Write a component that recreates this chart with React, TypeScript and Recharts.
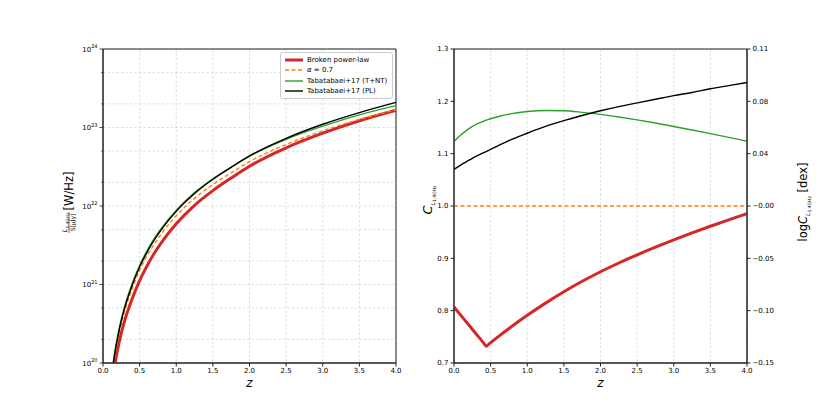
import React from 'react'
import {
  LineChart, Line, XAxis, YAxis, CartesianGrid, Legend, ReferenceArea
} from 'recharts'

const FONT = '"DejaVu Sans", sans-serif'
const RED = '#d62728'
const ORANGE = '#ff7f0e'
const GREEN = '#2ca02c'
const BLACK = '#000000'

// left panel: L_1.4GHz per unit flux (1 μJy), W/Hz
const Z_LUM = [0.1, 0.15, 0.2, 0.25, 0.3, 0.4, 0.5, 0.6, 0.7, 0.8, 1.0, 1.25, 1.5, 1.75, 2.0, 2.5, 3.0, 3.5, 4.0]
const LUM_BROKEN = [3.45e19, 8.12e19, 1.49e20, 2.42e20, 3.57e20, 6.63e20, 1.12e21, 1.72e21, 2.50e21, 3.44e21, 5.93e21, 1.02e22, 1.57e22, 2.27e22, 3.21e22, 5.51e22, 8.46e22, 1.22e23, 1.66e23]
const LUM_ALPHA = [4.37e19, 1.04e20, 1.93e20, 3.16e20, 4.72e20, 8.97e20, 1.51e21, 2.30e21, 3.29e21, 4.47e21, 7.50e21, 1.25e22, 1.88e22, 2.65e22, 3.67e22, 6.08e22, 9.05e22, 1.27e23, 1.69e23]
const LUM_TNT = [4.97e19, 1.19e20, 2.22e20, 3.64e20, 5.46e20, 1.04e21, 1.76e21, 2.69e21, 3.86e21, 5.26e21, 8.85e21, 1.48e22, 2.22e22, 3.12e22, 4.31e22, 7.08e22, 1.04e23, 1.45e23, 1.90e23]
const LUM_PL = [4.72e19, 1.13e20, 2.10e20, 3.45e20, 5.17e20, 9.88e20, 1.67e21, 2.56e21, 3.69e21, 5.04e21, 8.54e21, 1.44e22, 2.19e22, 3.11e22, 4.34e22, 7.28e22, 1.10e23, 1.55e23, 2.09e23]

// right panel: correction factor C
const Z_CORR = [0, 0.1, 0.2, 0.3, 0.4, 0.44, 0.48, 0.6, 0.75, 1.0, 1.25, 1.5, 1.75, 2.0, 2.25, 2.5, 2.75, 3.0, 3.25, 3.5, 3.75, 4.0]
const C_BROKEN = [0.807, 0.790, 0.773, 0.756, 0.739, 0.732, 0.7366, 0.7499, 0.7659, 0.7911, 0.8144, 0.8361, 0.8561, 0.8744, 0.8911, 0.9066, 0.9213, 0.9353, 0.9486, 0.9613, 0.9736, 0.9853]
const C_ALPHA = [1, 1, 1, 1, 1, 1, 1, 1, 1, 1, 1, 1, 1, 1, 1, 1, 1, 1, 1, 1, 1, 1]
const C_TNT = [1.123, 1.1365, 1.1475, 1.156, 1.1618, 1.164, 1.1658, 1.1705, 1.1755, 1.1805, 1.1825, 1.182, 1.179, 1.175, 1.170, 1.1645, 1.1585, 1.152, 1.1452, 1.1383, 1.1312, 1.124]
const C_PL = [1.070, 1.079, 1.087, 1.095, 1.1015, 1.104, 1.1067, 1.115, 1.125, 1.139, 1.152, 1.163, 1.173, 1.182, 1.190, 1.197, 1.204, 1.211, 1.217, 1.224, 1.230, 1.236]

// ticks
const Z_TICKS = [0, 0.5, 1, 1.5, 2, 2.5, 3, 3.5, 4]
const LOG_DECADES = [20, 21, 22, 23]
const LOG_MANTISSAS = [1, 2, 3, 4, 5, 6, 7, 8, 9]
const LOG_TICKS = [...LOG_DECADES.flatMap(d => LOG_MANTISSAS.map(m => m * Math.pow(10, d))), 1e24]
const C_TICKS = [0.7, 0.8, 0.9, 1.0, 1.1, 1.2, 1.3]
const LOGC_LABELS = ['\u22120.15', '\u22120.10', '\u22120.05', '\u22120.00', '0.04', '0.08', '0.11']

const SERIES = [
  { key: 'broken', label: 'Broken power-law', color: RED, width: 3, dash: undefined },
  { key: 'alpha', label: 'α = 0.7', color: ORANGE, width: 1.4, dash: '4 2.5' },
  { key: 'tnt', label: 'Tabatabaei+17 (T+NT)', color: GREEN, width: 1.4, dash: undefined },
  { key: 'pl', label: 'Tabatabaei+17 (PL)', color: BLACK, width: 1.4, dash: undefined },
]

const lumData = Z_LUM.map((z, i) => ({
  z, broken: LUM_BROKEN[i], alpha: LUM_ALPHA[i], tnt: LUM_TNT[i], pl: LUM_PL[i],
}))

const corrData = Z_CORR.map((z, i) => ({
  z, broken: C_BROKEN[i], alpha: C_ALPHA[i], tnt: C_TNT[i], pl: C_PL[i],
}))

const tickStyle = { fill: '#000', fontSize: 7, fontFamily: FONT }

function LogTick(props: any) {
  const { x, y, payload } = props
  const v = payload.value as number
  const exp = Math.round(Math.log10(v))
  const major = Math.abs(v / Math.pow(10, exp) - 1) < 1e-6
  const len = major ? 3.5 : 2
  return (
    <g>
      <line x1={x - len} x2={x} y1={y} y2={y} stroke="#222" strokeWidth={major ? 0.8 : 0.6} />
      {major && (
        <text x={x - len - 2} y={y} dy={2.5} textAnchor="end" fontSize={7} fontFamily={FONT} fill="#000">
          10<tspan fontSize={5} dy={-3.5}>{exp}</tspan>
        </text>
      )}
    </g>
  )
}

function LegendBox() {
  return (
    <div style={{
      border: '1px solid #cccccc',
      borderRadius: 3,
      background: 'rgba(255,255,255,0.85)',
      padding: '2px 5px 2px 4px',
      fontFamily: FONT,
      fontSize: 7,
      color: '#000',
    }}>
      {SERIES.map(s => (
        <div key={s.key} style={{ display: 'flex', alignItems: 'center', height: 10.3 }}>
          <svg width={18} height={6} style={{ marginRight: 4 }}>
            <line x1={0} x2={18} y1={3} y2={3} stroke={s.color} strokeWidth={s.width} strokeDasharray={s.dash} />
          </svg>
          {s.key === 'alpha'
            ? <span><i>α</i> = 0.7</span>
            : <span>{s.label}</span>}
        </div>
      ))}
    </div>
  )
}

function LuminosityPanel() {
  return (
    <LineChart width={420} height={415} data={lumData} margin={{ top: 49, right: 24, bottom: 22, left: 53 }}>
      <CartesianGrid stroke="#c8c8c8" strokeDasharray="2.5 2" strokeWidth={0.6} />
      <XAxis
        type="number" dataKey="z" domain={[0, 4]} ticks={Z_TICKS}
        tickFormatter={(v: number) => v.toFixed(1)}
        tick={tickStyle} tickSize={3.5} tickMargin={2} height={30}
        axisLine={{ stroke: '#222' }} tickLine={{ stroke: '#222' }}
      />
      <YAxis
        scale="log" domain={[1e20, 1e24]} ticks={LOG_TICKS} allowDataOverflow
        width={50} tickSize={0} tickMargin={0} tickLine={false}
        tick={<LogTick />} axisLine={{ stroke: '#222' }}
      />
      <Legend
        layout="vertical" align="center" verticalAlign="middle"
        wrapperStyle={{ left: 280, top: 52, width: 'auto' }}
        content={() => <LegendBox />}
      />
      {SERIES.map(s => (
        <Line
          key={s.key} type="monotone" dataKey={s.key}
          stroke={s.color} strokeWidth={s.key === 'broken' ? 3 : 1.4}
          strokeDasharray={s.dash} dot={false} activeDot={false}
          isAnimationActive={false}
        />
      ))}
      <ReferenceArea x1={0} x2={4} y1={1e20} y2={1e24} fill="none" stroke="#222" strokeWidth={1} />
    </LineChart>
  )
}

function CorrectionPanel() {
  return (
    <LineChart width={410} height={415} data={corrData} margin={{ top: 49, right: 43, bottom: 22, left: 4 }}>
      <CartesianGrid stroke="#c8c8c8" strokeDasharray="2.5 2" strokeWidth={0.6} />
      <XAxis
        type="number" dataKey="z" domain={[0, 4]} ticks={Z_TICKS}
        tickFormatter={(v: number) => v.toFixed(1)}
        tick={tickStyle} tickSize={3.5} tickMargin={2} height={30}
        axisLine={{ stroke: '#222' }} tickLine={{ stroke: '#222' }}
      />
      <YAxis
        yAxisId="c" domain={[0.7, 1.3]} ticks={C_TICKS} allowDataOverflow
        tickFormatter={(v: number) => v.toFixed(1)}
        width={30} tick={tickStyle} tickSize={3.5} tickMargin={2}
        axisLine={{ stroke: '#222' }} tickLine={{ stroke: '#222' }}
      />
      <YAxis
        yAxisId="logc" orientation="right" domain={[0.7, 1.3]} ticks={C_TICKS} allowDataOverflow
        tickFormatter={(_v: number, i: number) => LOGC_LABELS[i]}
        width={40} tick={tickStyle} tickSize={3.5} tickMargin={2}
        axisLine={{ stroke: '#222' }} tickLine={{ stroke: '#222' }}
      />
      <Line yAxisId="c" type="monotone" dataKey="broken" stroke={RED} strokeWidth={3} dot={false} activeDot={false} isAnimationActive={false} />
      <Line yAxisId="logc" type="linear" dataKey="alpha" stroke={ORANGE} strokeWidth={1.4} strokeDasharray="4 2.5" dot={false} activeDot={false} isAnimationActive={false} />
      <Line yAxisId="c" type="monotone" dataKey="tnt" stroke={GREEN} strokeWidth={1.4} dot={false} activeDot={false} isAnimationActive={false} />
      <Line yAxisId="c" type="monotone" dataKey="pl" stroke={BLACK} strokeWidth={1.4} dot={false} activeDot={false} isAnimationActive={false} />
      <ReferenceArea yAxisId="c" x1={0} x2={4} y1={0.7} y2={1.3} fill="none" stroke="#222" strokeWidth={1} />
    </LineChart>
  )
}

function AxisTitles() {
  return (
    <svg width={830} height={415} style={{ position: 'absolute', left: 0, top: 0, pointerEvents: 'none' }} fontFamily={FONT}>
      {/* left panel y title */}
      <text transform="translate(72.5,191) rotate(-90)" textAnchor="middle" fontSize={11.5} fill="#000">[W/Hz]</text>
      <g transform="translate(69,222.5) rotate(-90)">
        <line x1={-10.5} x2={10.5} y1={0} y2={0} stroke="#000" strokeWidth={0.6} />
        <text x={0} y={-1.6} textAnchor="middle" fontSize={6.5} fill="#000">
          <tspan fontStyle="italic">L</tspan><tspan fontSize={4.3} dy={1.2}>1.4GHz</tspan>
        </text>
        <text x={0} y={5.6} textAnchor="middle" fontSize={6} fill="#000">S[μJy]</text>
      </g>
      {/* x titles */}
      <text x={249.5} y={387} textAnchor="middle" fontSize={12} fontStyle="italic" fill="#000">z</text>
      <text x={600.5} y={387} textAnchor="middle" fontSize={12} fontStyle="italic" fill="#000">z</text>
      {/* right panel left title */}
      <text transform="translate(432,200) rotate(-90)" textAnchor="middle" fontSize={13} fill="#000">
        <tspan fontStyle="italic">C</tspan>
        <tspan fontSize={6} fontStyle="italic" dy={2.5}>L</tspan>
        <tspan fontSize={4.5} dy={1}>1.4GHz</tspan>
      </text>
      {/* right panel right title */}
      <text transform="translate(807,202) rotate(-90)" textAnchor="middle" fontSize={11.5} fill="#000">
        log<tspan fontStyle="italic">C</tspan>
        <tspan fontSize={6} fontStyle="italic" dy={2.5}>L</tspan>
        <tspan fontSize={4.5} dy={1}>1.4GHz</tspan>
        <tspan fontSize={11.5} dy={-3.5}> [dex]</tspan>
      </text>
    </svg>
  )
}

export default function App() {
  return (
    <div style={{ position: 'absolute', left: 0, top: 0, width: 830, height: 415, background: '#fff', fontFamily: FONT }}>
      <div style={{ position: 'absolute', left: 0, top: 0 }}>
        <LuminosityPanel />
      </div>
      <div style={{ position: 'absolute', left: 420, top: 0 }}>
        <CorrectionPanel />
      </div>
      <AxisTitles />
    </div>
  )
}
